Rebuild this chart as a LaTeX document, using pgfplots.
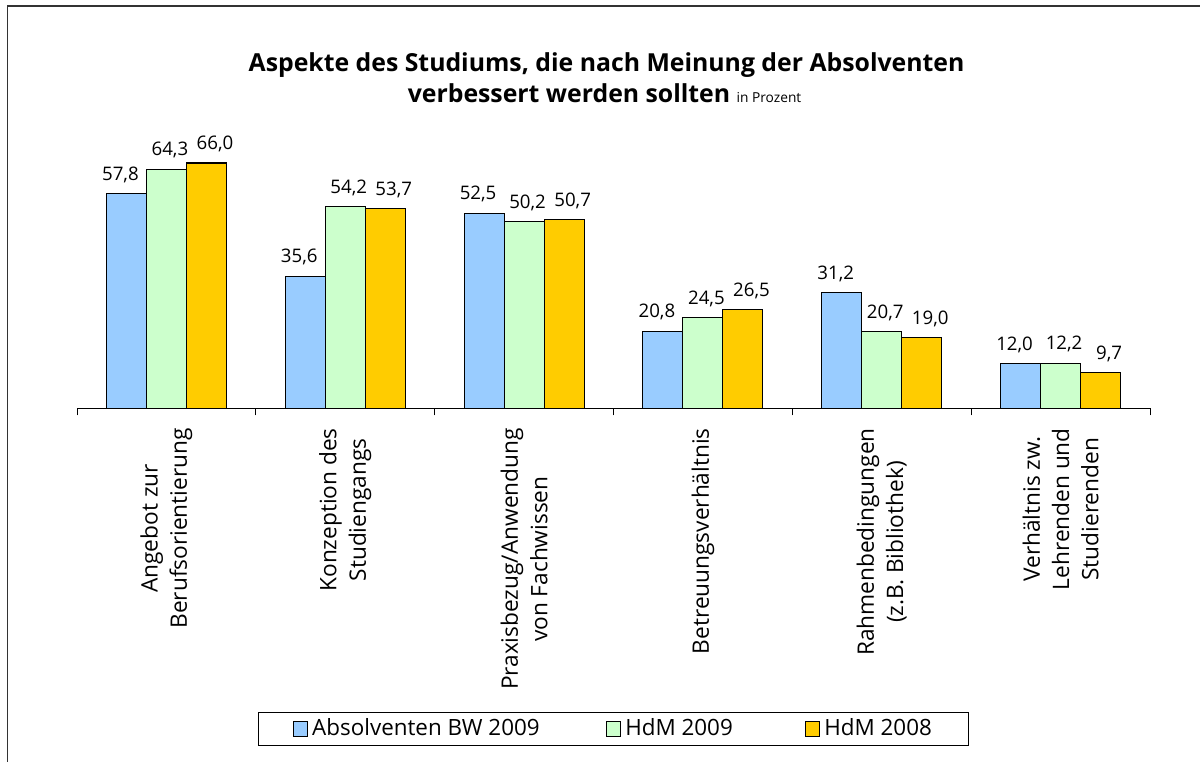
\documentclass[border=0pt]{standalone}
\usepackage{fontspec}
\setmainfont{Open Sans}
\usepackage{pgfplots}
\pgfplotsset{compat=1.18}
\definecolor{cblue}{HTML}{99CCFF}
\definecolor{cgreen}{HTML}{CCFFCC}
\definecolor{cgold}{HTML}{FFCC00}
\begin{document}
\begin{tikzpicture}
\useasboundingbox (0pt,0pt) rectangle (900pt,571.5pt);
\draw[line width=1.1pt, black!80] (5.625pt,0pt) -- (5.625pt,567pt) -- (900pt,567pt);
\node[anchor=base, font=\bfseries\fontsize{18.6}{22}\selectfont, inner sep=0pt] at (454.9pt,517.5pt) {Aspekte des Studiums, die nach Meinung der Absolventen};
\node[anchor=base, font=\bfseries\fontsize{18.6}{22}\selectfont, inner sep=0pt] at (453.4pt,494.25pt) {verbessert werden sollten {\mdseries\fontsize{10.3}{12}\selectfont in Prozent}};
\begin{axis}[
  at={(57.75pt,265.125pt)}, anchor=south west,
  scale only axis, width=804.75pt, height=195.3pt,
  xmin=-0.5, xmax=5.5, ymin=0, ymax=70,
  axis x line*=bottom, axis y line=none,
  axis line style={line width=0.75pt, black},
  ytick=\empty,
  xtick={0,...,5},
  major tick length=0pt,
  minor xtick={-0.5,0.5,...,5.5},
  minor tick length=5.25pt, tick align=outside,
  minor x tick style={line width=0.75pt, black},
  xticklabels={{Angebot zur\\Berufsorientierung},{Konzeption des\\Studiengangs},{Praxisbezug/Anwendung\\von Fachwissen},{Betreuungsverhältnis},{Rahmenbedingungen\\(z.B. Bibliothek)},{Verhältnis zw.\\Lehrenden und\\Studierenden}},
  xticklabel style={rotate=90, anchor=east, align=center, inner sep=0pt, font=\fontsize{17}{22}\selectfont},
  xticklabel shift=14.6pt,
  ybar=0pt, bar width=30pt,
  /pgf/number format/assume math mode=true,
  nodes near coords={\pgfmathprintnumber[fixed,fixed zerofill,precision=1,use comma]{\pgfplotspointmeta}},
  every node near coord/.append style={anchor=base, inner sep=0pt, yshift=10pt, font=\fontsize{14}{16}\selectfont, black},
  legend columns=3,
  legend image code/.code={\draw[#1, bar shift=0pt] (0pt,-5.5pt) rectangle (10.5pt,5.5pt);},
  legend style={at={(0.1687,-1.1655)}, anchor=north west, draw=black, line width=0.75pt,
    inner xsep=26pt, inner ysep=4.9pt,
    nodes={inner sep=0pt, text height=12pt, text depth=3pt},
    /tikz/every odd column/.style={column sep=3pt},
    font=\fontsize{16.8}{19}\selectfont},
]
\addplot[fill=cblue, draw=black, line width=0.8pt, every node near coord/.append style={xshift=-4.5pt}] coordinates {(0,57.8) (1,35.6) (2,52.5) (3,20.8) (4,31.2) (5,12.0)};
\addplot[fill=cgreen, draw=black, line width=0.8pt, every node near coord/.append style={xshift=2.6pt}] coordinates {(0,64.3) (1,54.2) (2,50.2) (3,24.5) (4,20.7) (5,12.2)};
\addplot[fill=cgold, draw=black, line width=0.8pt, every node near coord/.append style={xshift=6.4pt}] coordinates {(0,66.0) (1,53.7) (2,50.7) (3,26.5) (4,19.0) (5,9.7)};
\legend{{\makebox[220.5pt][l]{Absolventen BW 2009}},{\makebox[135pt][l]{HdM 2009}},{\makebox[82pt][l]{HdM 2008}}}
\end{axis}
\end{tikzpicture}
\end{document}
